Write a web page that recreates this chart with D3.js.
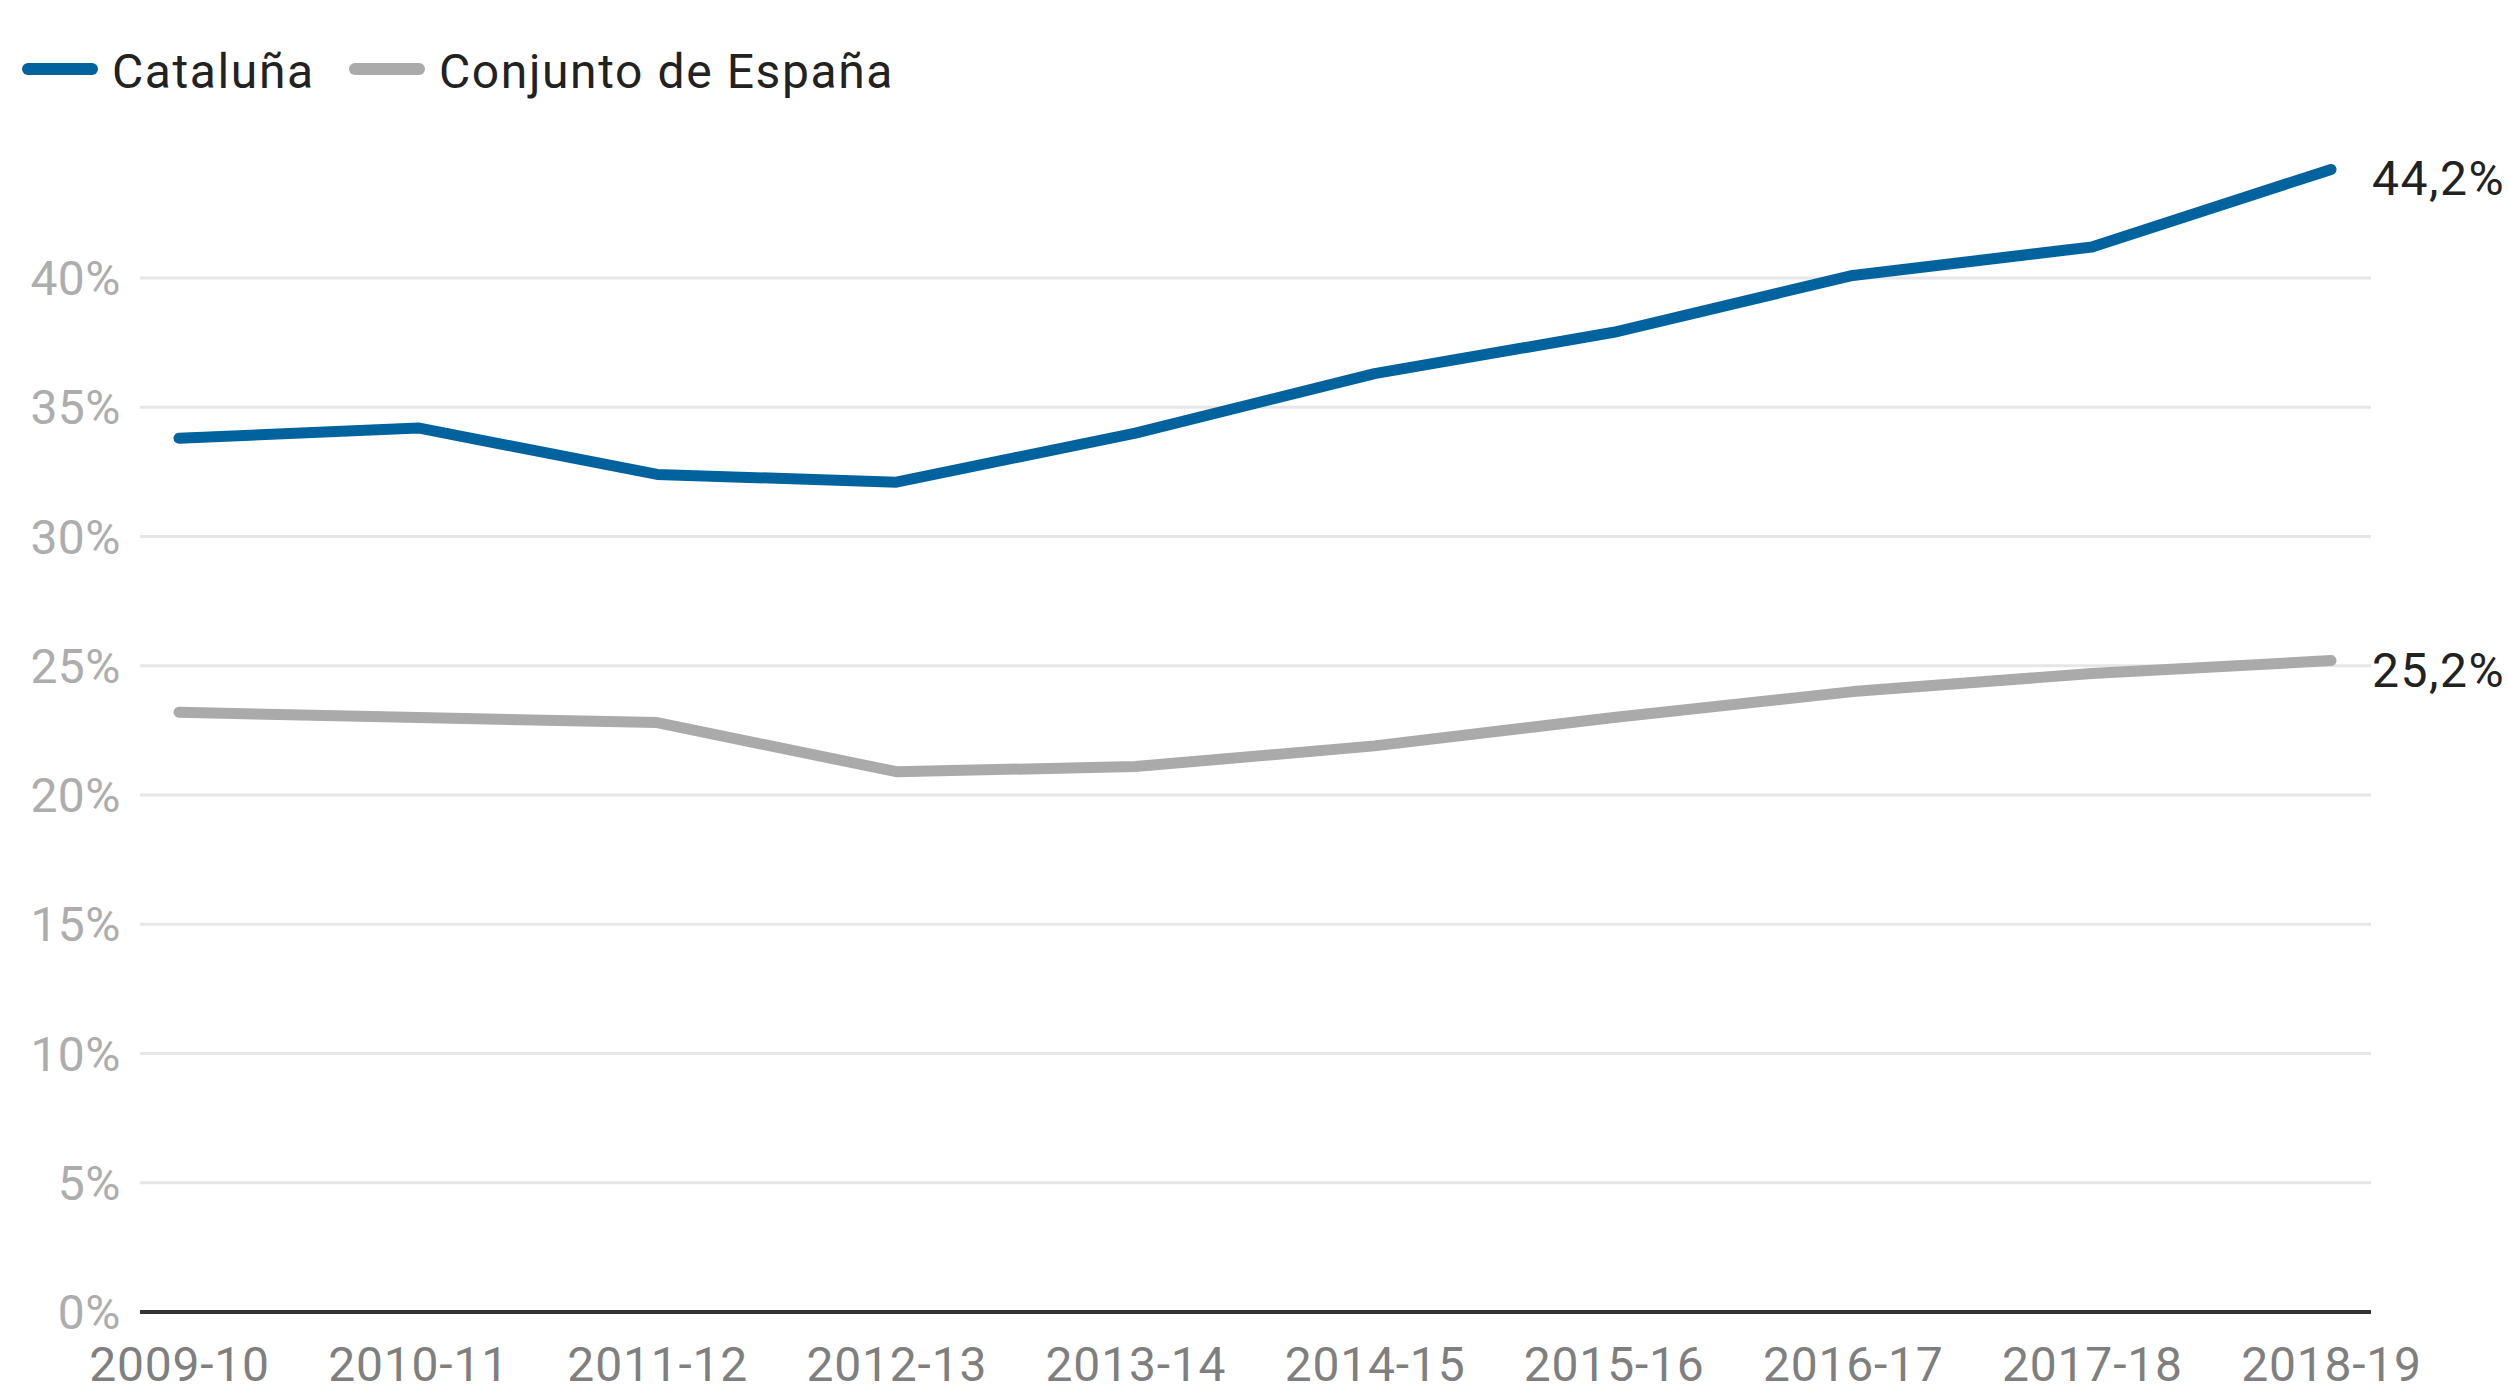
<!DOCTYPE html>
<html>
<head>
<meta charset="utf-8">
<script src="https://cdn.jsdelivr.net/npm/d3@7"></script>
<style>
  body { margin: 0; background: #fff; }
  svg text { font-family: Roboto, 'Noto Sans', sans-serif; }
</style>
</head>
<body>
<div id="chart"></div>
<script>
const seasons = ['2009-10', '2010-11', '2011-12', '2012-13', '2013-14', '2014-15', '2015-16', '2016-17', '2017-18', '2018-19']
const cataluna = [33.8, 34.2, 32.4, 32.1, 34.0, 36.3, 37.9, 40.1, 41.2, 44.2]
const espana = [23.2, 23.0, 22.8, 20.9, 21.1, 21.9, 23.0, 24.0, 24.7, 25.2]
const yTicks = [0, 5, 10, 15, 20, 25, 30, 35, 40]
const seriesNames = ['Cataluña', 'Conjunto de España']
const colors = ['#00639e', '#aaaaaa']

const width = 2508
const height = 1397

const svg = d3
  .select('#chart')
  .append('svg')
  .attr('width', width)
  .attr('height', height)

const x = d3.scalePoint().domain(seasons).range([179, 2331])
const y = d3.scaleLinear().domain([0, 40]).range([1312, 278])

const gridLeft = 140
const gridRight = 2371

// gridlines
svg
  .append('g')
  .selectAll('line')
  .data(yTicks.filter(d => d > 0))
  .enter()
  .append('line')
  .attr('x1', gridLeft)
  .attr('x2', gridRight)
  .attr('y1', d => y(d))
  .attr('y2', d => y(d))
  .attr('stroke', '#e6e6e6')
  .attr('stroke-width', 3)

// y labels
svg
  .append('g')
  .selectAll('text')
  .data(yTicks)
  .enter()
  .append('text')
  .attr('x', 121)
  .attr('y', d => y(d) + 17)
  .attr('text-anchor', 'end')
  .attr('font-size', 48)
  .attr('letter-spacing', 0.5)
  .attr('fill', '#adadad')
  .text(d => d + '%')

// x axis
const xAxis = d3.axisBottom(x).tickSize(0).tickPadding(35)
const xg = svg
  .append('g')
  .attr('transform', 'translate(0,' + y(0) + ')')
  .call(xAxis)
xg.select('.domain').remove()
xg.selectAll('text')
  .attr('font-size', 48)
  .attr('letter-spacing', 0.8)
  .attr('fill', '#7f7f7f')
  .attr('font-family', 'Roboto, sans-serif')

svg
  .append('line')
  .attr('x1', gridLeft)
  .attr('x2', gridRight)
  .attr('y1', y(0))
  .attr('y2', y(0))
  .attr('stroke', '#333')
  .attr('stroke-width', 4)

// lines
const line = d3
  .line()
  .x((d, i) => x(seasons[i]))
  .y(d => y(d))

const series = [espana, cataluna]
const seriesColors = [colors[1], colors[0]]

svg
  .append('g')
  .selectAll('path')
  .data(series)
  .enter()
  .append('path')
  .attr('d', d => line(d))
  .attr('fill', 'none')
  .attr('stroke', (d, i) => seriesColors[i])
  .attr('stroke-width', 11)
  .attr('stroke-linecap', 'round')
  .attr('stroke-linejoin', 'round')

// end labels
svg
  .append('g')
  .selectAll('text')
  .data(series)
  .enter()
  .append('text')
  .attr('x', 2372)
  .attr('y', d => y(d[d.length - 1]) + 26)
  .attr('font-size', 48)
  .attr('letter-spacing', 1.5)
  .attr('fill', '#222')
  .text(d => String(d[d.length - 1]).replace('.', ',') + '%')

// legend
const legendX = [28, 355]
const legend = svg
  .append('g')
  .selectAll('g')
  .data(seriesNames)
  .enter()
  .append('g')
  .attr('transform', (d, i) => 'translate(' + legendX[i] + ',69)')

legend
  .append('line')
  .attr('x1', 0)
  .attr('x2', 64)
  .attr('stroke', (d, i) => colors[i])
  .attr('stroke-width', 12)
  .attr('stroke-linecap', 'round')

legend
  .append('text')
  .attr('x', 84)
  .attr('y', 19)
  .attr('font-size', 48)
  .attr('letter-spacing', 1.6)
  .attr('fill', '#222')
  .text(d => d)
</script>
</body>
</html>
